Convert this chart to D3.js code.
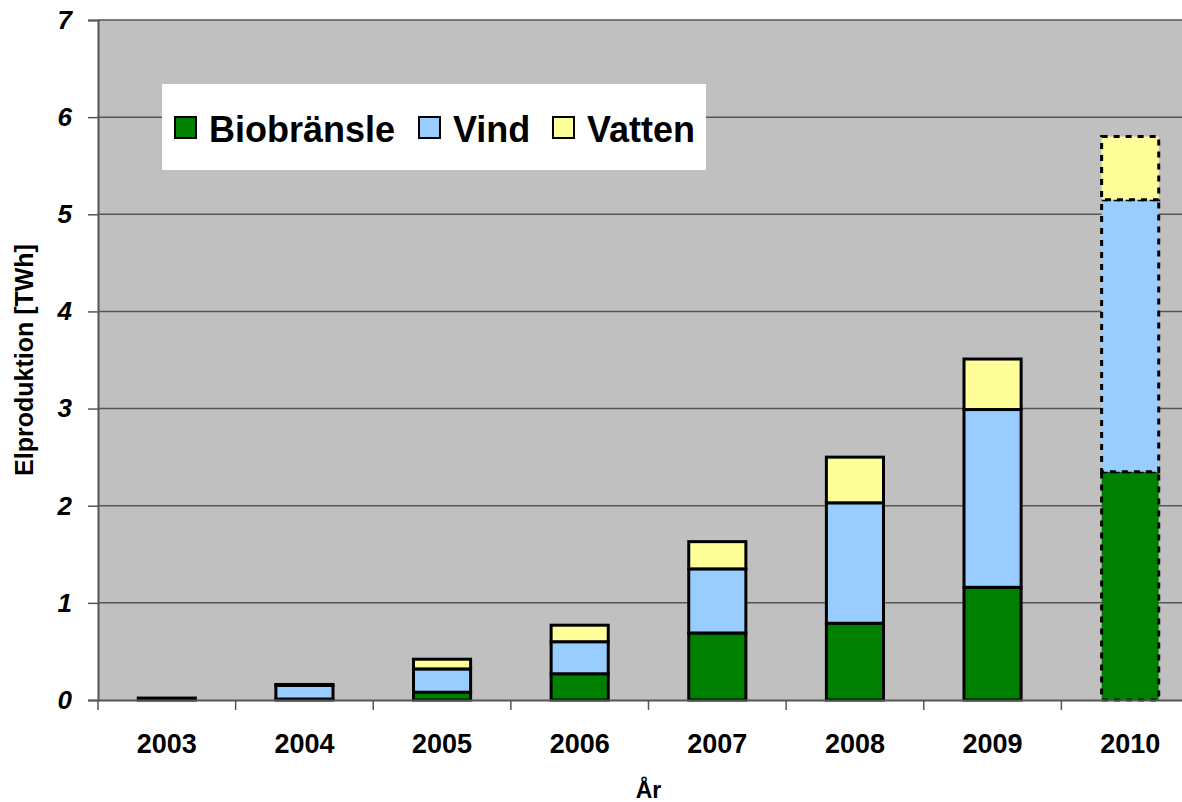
<!DOCTYPE html>
<html>
<head>
<meta charset="utf-8">
<script src="https://cdn.jsdelivr.net/npm/d3@7"></script>
<style>
  body { margin: 0; background: #fff; }
  text { font-family: Arial, "Liberation Sans", sans-serif; }
</style>
</head>
<body>
<div id="chart"></div>
<script>
// data
let years = ["2003", "2004", "2005", "2006", "2007", "2008", "2009", "2010"];
let bio = [0.02, 0.01, 0.08, 0.27, 0.69, 0.79, 1.16, 2.35];
let vind = [0, 0.14, 0.24, 0.33, 0.66, 1.24, 1.83, 2.80];
let vatten = [0, 0.01, 0.10, 0.17, 0.28, 0.47, 0.52, 0.65];
let seriesNames = ["Biobränsle", "Vind", "Vatten"];
let colors = ["#008000", "#99CCFF", "#FFFF99"];
let yTicks = [0, 1, 2, 3, 4, 5, 6, 7];

let svgWidth = 1182;
let svgHeight = 802;
let margin = { top: 20, right: -17, bottom: 102, left: 98 };
let width = svgWidth - margin.left - margin.right;
let height = svgHeight - margin.top - margin.bottom;

let svg = d3.select("#chart").append("svg")
    .attr("width", svgWidth)
    .attr("height", svgHeight);

let g = svg.append("g")
    .attr("transform", `translate(${margin.left}, ${margin.top})`);

let table = years.map((y, i) => ({ year: y, "Biobränsle": bio[i], "Vind": vind[i], "Vatten": vatten[i] }));
let stacked = d3.stack().keys(seriesNames)(table);

let x = d3.scaleBand().domain(years).range([0, width]).paddingInner(0.585).paddingOuter(0.2925);
let y = d3.scaleLinear().domain([0, 7]).range([height, 0]);

// plot background
g.append("rect")
    .attr("width", width)
    .attr("height", height)
    .attr("fill", "#C0C0C0");

// gridlines
g.selectAll(".grid")
    .data(yTicks.slice(1))
    .enter().append("line")
    .attr("x1", 0).attr("x2", width)
    .attr("y1", d => y(d)).attr("y2", d => y(d))
    .attr("stroke", "#555")
    .attr("stroke-width", 1.5);

// bars
stacked.forEach((s, si) => {
    g.selectAll(".bar" + si)
        .data(s)
        .enter().append("rect")
        .attr("x", d => x(d.data.year))
        .attr("y", d => y(d[1]))
        .attr("width", x.bandwidth())
        .attr("height", d => y(d[0]) - y(d[1]))
        .attr("fill", colors[si])
        .attr("stroke", "#000")
        .attr("stroke-width", 3)
        .attr("stroke-dasharray", d => d.data.year === "2010" ? "6,6" : null);
});

// y axis
let yAxis = d3.axisLeft(y).tickValues(yTicks).tickSize(10).tickFormat(d3.format("d"));
let yg = g.append("g").call(yAxis);
yg.select(".domain").attr("stroke", "#555").attr("stroke-width", 2);
yg.selectAll(".tick line").attr("stroke", "#555").attr("stroke-width", 1.5);
yg.selectAll("text")
    .attr("x", -26)
    .attr("font-size", "26px")
    .attr("font-weight", "bold")
    .attr("font-style", "italic")
    .attr("fill", "#000");

// x axis
let xAxis = d3.axisBottom(x).tickSize(0).tickPadding(0);
let xg = g.append("g").attr("transform", `translate(0, ${height})`).call(xAxis);
xg.select(".domain").attr("stroke", "#555").attr("stroke-width", 2);
xg.selectAll("text")
    .attr("y", 34)
    .attr("font-size", "27px")
    .attr("font-weight", "bold")
    .attr("fill", "#000");

// category boundary ticks
let step = x.step();
g.selectAll(".xtick")
    .data(d3.range(years.length + 1))
    .enter().append("line")
    .attr("x1", d => d * step).attr("x2", d => d * step)
    .attr("y1", height).attr("y2", height + 10)
    .attr("stroke", "#555")
    .attr("stroke-width", 1.5);

// axis titles
svg.append("text")
    .attr("x", margin.left + 4 * step)
    .attr("y", 798)
    .attr("text-anchor", "middle")
    .attr("font-size", "23px")
    .attr("font-weight", "bold")
    .text("År");

svg.append("text")
    .attr("transform", `translate(33, ${margin.top + height / 2}) rotate(-90)`)
    .attr("text-anchor", "middle")
    .attr("font-size", "25px")
    .attr("font-weight", "bold")
    .text("Elproduktion [TWh]");

// legend
let legend = svg.append("g");
legend.append("rect")
    .attr("x", 162).attr("y", 84)
    .attr("width", 544).attr("height", 86)
    .attr("fill", "#fff");

let legendX = [175, 419, 553];
seriesNames.forEach((name, i) => {
    legend.append("rect")
        .attr("x", legendX[i]).attr("y", 117)
        .attr("width", 21).attr("height", 21)
        .attr("fill", colors[i])
        .attr("stroke", "#000")
        .attr("stroke-width", 2);
    legend.append("text")
        .attr("x", legendX[i] + 34)
        .attr("y", 142)
        .attr("font-size", "36px")
        .attr("font-weight", "bold")
        .text(name);
});
</script>
</body>
</html>
